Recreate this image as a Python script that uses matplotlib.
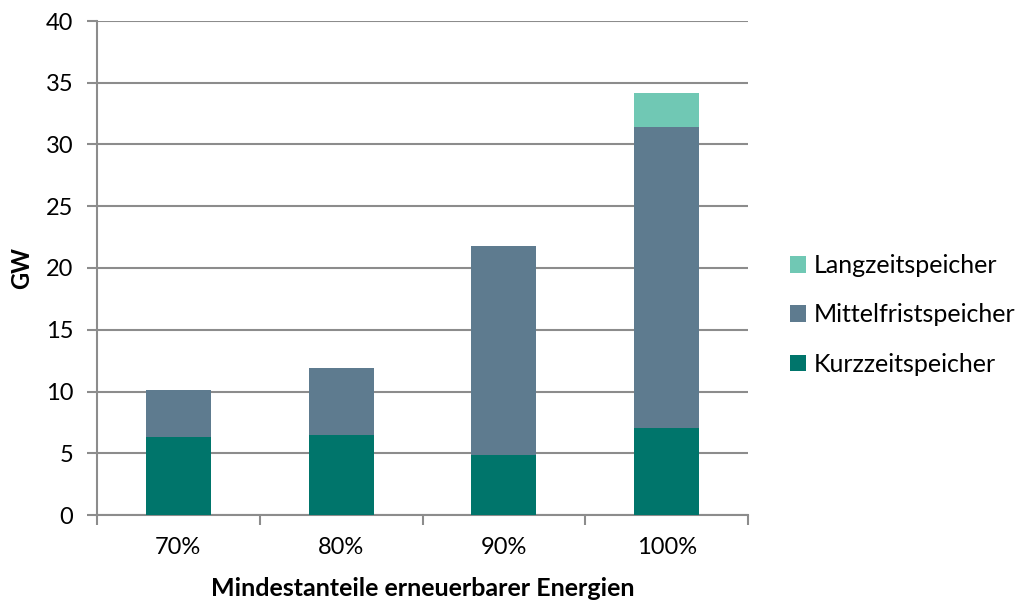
import matplotlib
matplotlib.use("Agg")
import matplotlib.pyplot as plt
from matplotlib.patches import Patch
import numpy as np

plt.rcParams['font.family'] = ['Lato', 'DejaVu Sans']

categories = ["70%", "80%", "90%", "100%"]
kurzzeit = [6.3, 6.5, 4.85, 7.05]
mittelfrist = [3.85, 5.4, 16.95, 24.35]
langzeit = [0.0, 0.0, 0.0, 2.75]

series_names = ["Kurzzeitspeicher", "Mittelfristspeicher", "Langzeitspeicher"]
colors = ["#00756B", "#5E7B8F", "#70C8B4"]

fig = plt.figure(figsize=(10.17, 6.03), dpi=100)
ax = fig.add_axes([97 / 1017, (603 - 515) / 603, (748 - 97) / 1017, (515 - 21) / 603])

x = np.arange(len(categories))
width = 0.4
bottom = np.zeros(len(categories))
for vals, col in zip([kurzzeit, mittelfrist, langzeit], colors):
    vals = np.array(vals)
    ax.bar(x, vals, width, bottom=bottom, color=col, edgecolor="none", zorder=3)
    bottom += vals

ax.set_xlim(-0.5, len(categories) - 0.5)
ax.set_ylim(0, 40)
ax.set_yticks(range(0, 41, 5))
ax.yaxis.grid(True, color="#8c8c8c", linewidth=1.5, zorder=0)
ax.set_axisbelow(True)

ax.set_xticks(x)
ax.set_xticklabels(categories, fontsize=17)
ax.set_xticks(np.arange(-0.5, len(categories)), minor=True)
ax.tick_params(axis="x", which="major", length=0, pad=16)
ax.tick_params(axis="x", which="minor", length=7, width=1.5, color="#8c8c8c")
ax.tick_params(axis="y", length=7, width=1.5, color="#8c8c8c", labelsize=17, pad=10)

for side in ["top", "right"]:
    ax.spines[side].set_visible(False)
for side in ["left", "bottom"]:
    ax.spines[side].set_color("#8c8c8c")
    ax.spines[side].set_linewidth(1.5)

ax.set_ylabel("GW", fontsize=17, fontweight="bold", labelpad=9)
fig.text((97 + 748) / 2 / 1017, 1 - 589 / 603, "Mindestanteile erneuerbarer Energien",
         fontsize=18, fontweight="bold", ha="center", va="center")

handles = [Patch(facecolor=c, edgecolor="none") for c in colors][::-1]
labels = series_names[::-1]
fig.legend(handles, labels, loc="center left", bbox_to_anchor=(780 / 1017, 1 - 315 / 603),
           frameon=False, fontsize=18, handlelength=0.65, handleheight=0.65,
           handletextpad=0.3, labelspacing=1.05, borderaxespad=0)

fig.savefig("out.png", dpi=100)
